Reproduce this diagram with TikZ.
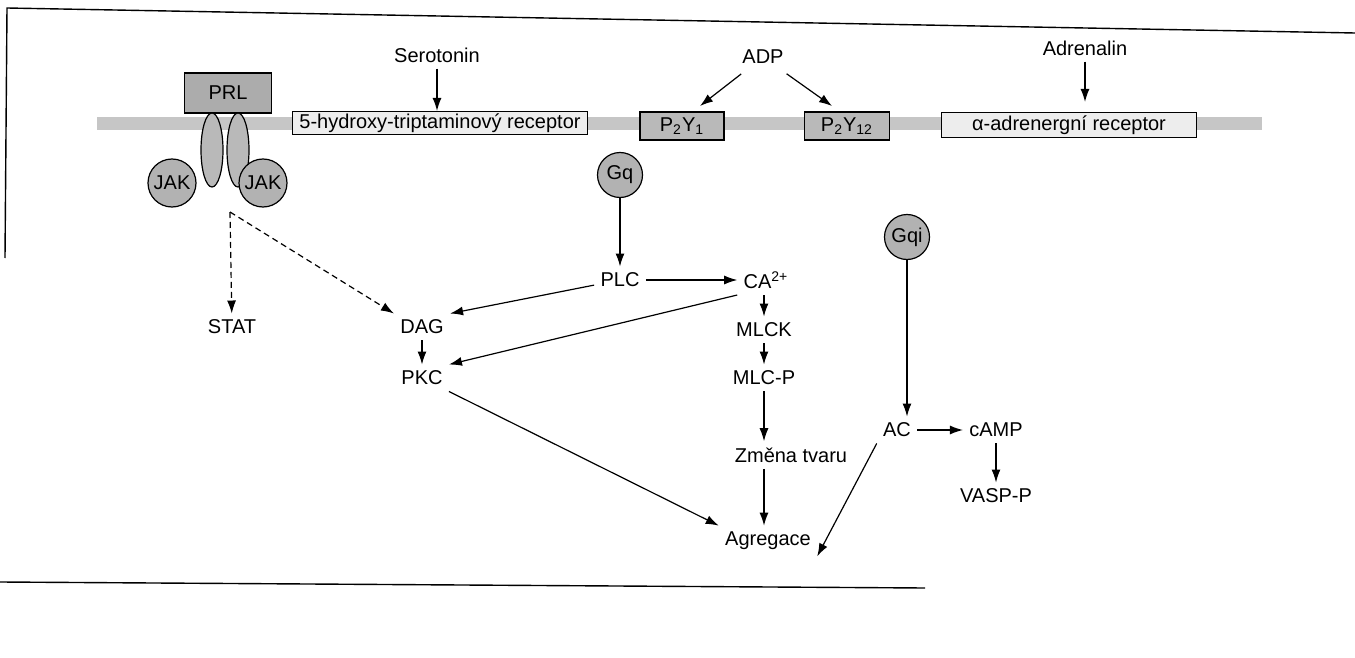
\documentclass[tikz,border=0pt]{standalone}
\usepackage{fontspec}
\setmainfont{Liberation Sans}
\usetikzlibrary{arrows.meta}

\begin{document}
\begin{tikzpicture}[x=0.5pt,y=-0.5pt,
    font=\fontsize{10}{12}\selectfont,
    txt/.style={inner sep=3pt},
    arr/.style={-{Latex[length=6.5pt,width=4.5pt]},line width=0.6pt},
    dasharr/.style={arr,dash pattern=on 3pt off 2pt},
    lightbox/.style={draw,line width=0.6pt,fill=gray!14,minimum height=11.5pt,inner sep=0pt},
    darkbox/.style={draw,line width=0.6pt,fill=gray!55,minimum height=14pt,inner sep=0pt},
    gprot/.style={circle,draw,line width=0.6pt,fill=gray!60,minimum size=22.5pt,inner sep=0pt},
    chain/.style={draw,line width=0.6pt,fill=gray!55}]
   \useasboundingbox (0,0) rectangle (1355,658);

   % frame of the scan
   \draw[line width=0.7pt] (0,582) -- (925,588);
   \draw[line width=0.7pt] (5,258) -- (7,8) -- (1355,33);

   % membrane
   \fill[gray!45] (97,117) rectangle (1262,130);

   % prolactin receptor
   \node[darkbox,fill=gray!65,minimum width=43.5pt,minimum height=20pt] (prl) at (228,93) {PRL};
   \draw[chain] (212,150) ellipse [x radius=5.5pt,y radius=18.5pt];
   \draw[chain] (238,150) ellipse [x radius=5.5pt,y radius=18.5pt];
   \node[gprot,minimum size=24pt] (jakl) at (172,183) {JAK};
   \node[gprot,minimum size=24pt] (jakr) at (263,183) {JAK};
   \coordinate (jout) at (230,212);

   % receptors
   \node[lightbox,minimum width=147.5pt] (htr) at (440,123) {5-hydroxy-triptaminový receptor};
   \node[darkbox,minimum width=42pt] (p2y1) at (682,126) {P\textsubscript{2}Y\textsubscript{1}};
   \node[darkbox,minimum width=42.5pt] (p2y12) at (847,126) {P\textsubscript{2}Y\textsubscript{12}};
   \node[lightbox,minimum width=127.5pt,minimum height=12.5pt] (adr) at (1069,125) {α-adrenergní receptor};
   \node[gprot] (gq) at (620,175) {Gq};
   \node[gprot] (gqi) at (907,237) {Gqi};

   % agonists
   \node[txt] (sero) at (437,55) {Serotonin};
   \node[txt] (adp) at (763,57) {ADP};
   \node[txt] (adren) at (1085,48) {Adrenalin};
   \coordinate (adpl) at (700,106);
   \coordinate (adpr) at (832,106);

   % signalling
   \node[txt] (plc) at (620,280) {PLC};
   \node[txt] (ca) at (766,280) {CA\textsuperscript{2+}};
   \node[txt] (stat) at (232,327) {STAT};
   \node[txt] (dag) at (422,327) {DAG};
   \node[txt] (pkc) at (422,378) {PKC};
   \node[txt] (mlck) at (764,330) {MLCK};
   \node[txt] (mlcp) at (764,378) {MLC-P};
   \node[txt] (zmena) at (791,455) {Změna tvaru};
   \node[txt] (agreg) at (768,541) {Agregace};
   \node[txt] (ac) at (897,430) {AC};
   \node[txt] (camp) at (996,430) {cAMP};
   \node[txt] (vasp) at (996,496) {VASP-P};

   \draw[arr] (sero) -- (sero |- htr.north);
   \draw[arr,shorten <=3pt] (adp) -- (adpl);
   \draw[arr,shorten <=3pt] (adp) -- (adpr);
   \draw[arr,shorten >=5pt] (adren) -- (adren |- adr.north);

   \draw[dasharr] (jout) -- (stat);
   \draw[dasharr] (jout) -- (dag.north west);

   \draw[arr] (gq) -- (plc);
   \draw[arr] (plc) -- (ca);
   \draw[arr] (plc) -- (dag.north east);
   \draw[arr] (ca.south west) -- (pkc.north east);
   \draw[arr] (ca.south -| mlck) -- (mlck);
   \draw[arr] (mlck) -- (mlcp);
   \draw[arr] (mlcp) -- (mlcp |- zmena.north);
   \draw[arr] (mlcp |- zmena.south) -- (mlcp |- agreg.north);
   \draw[arr] (dag) -- (pkc);
   \draw[arr] (pkc.south east) -- (agreg.north west);
   \draw[arr] (gqi) -- (gqi |- ac.north);
   \draw[arr] (ac.south west) -- (agreg.south east);
   \draw[arr] (ac) -- (camp);
   \draw[arr] (camp) -- (vasp);
\end{tikzpicture}
\end{document}
